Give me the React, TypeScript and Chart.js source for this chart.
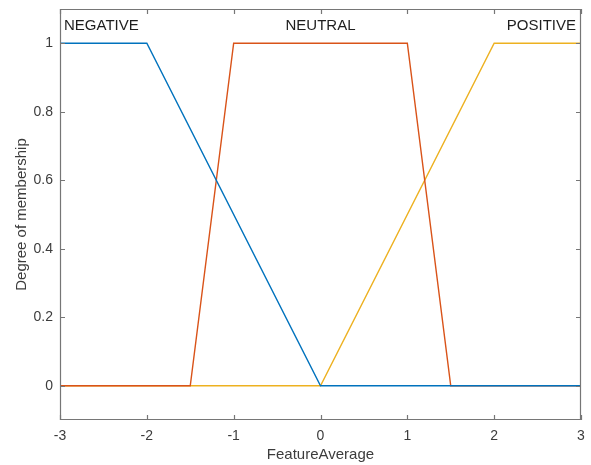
import React, { useEffect, useRef } from "react";
import { Chart, registerables } from "chart.js";

Chart.register(...registerables);

const negativeX = [-3, -2, 0, 3];
const negativeY = [1, 1, 0, 0];
const neutralX = [-3, -1.5, -1, 1, 1.5, 3];
const neutralY = [0, 0, 1, 1, 0, 0];
const positiveX = [-3, 0, 2, 3];
const positiveY = [0, 0, 1, 1];
const seriesNames = ["NEGATIVE", "NEUTRAL", "POSITIVE"];
const seriesColors = ["#0072BD", "#D95319", "#EDB120"];
const xTickValues = [-3, -2, -1, 0, 1, 2, 3];
const yTickValues = [0, 0.2, 0.4, 0.6, 0.8, 1];
const xLabel = "FeatureAverage";
const yLabel = "Degree of membership";

const FONT = "'Liberation Sans', Arial, Helvetica, sans-serif";
const AXIS_COLOR = "#767676";
const TEXT_COLOR = "#3c3c3c";

const toPoints = (xs: number[], ys: number[]) => xs.map((x, i) => ({ x, y: ys[i] }));

const boxPlugin = {
  id: "matlabBox",
  afterDatasetsDraw(chart: any) {
    const { ctx, chartArea: a, scales } = chart;
    const xs = scales.x;
    const ys = scales.y;
    ctx.save();
    ctx.strokeStyle = AXIS_COLOR;
    ctx.lineWidth = 1.2;
    ctx.beginPath();
    ctx.rect(a.left + 0.5, a.top + 0.5, a.right - a.left - 1, a.bottom - a.top - 1);
    ctx.stroke();
    const tl = 5;
    ctx.beginPath();
    xTickValues.forEach((v) => {
      const px = Math.round(xs.getPixelForValue(v)) + 0.5;
      ctx.moveTo(px, a.bottom);
      ctx.lineTo(px, a.bottom - tl);
      ctx.moveTo(px, a.top);
      ctx.lineTo(px, a.top + tl);
    });
    yTickValues.forEach((v) => {
      const py = Math.round(ys.getPixelForValue(v)) + 0.5;
      ctx.moveTo(a.left, py);
      ctx.lineTo(a.left + tl, py);
      ctx.moveTo(a.right, py);
      ctx.lineTo(a.right - tl, py);
    });
    ctx.stroke();
    // membership function names
    ctx.fillStyle = "#1e1e1e";
    ctx.font = `15px ${FONT}`;
    ctx.textBaseline = "middle";
    const ty = ys.getPixelForValue(1.05);
    ctx.textAlign = "left";
    ctx.fillText(seriesNames[0], a.left + 4, ty);
    ctx.textAlign = "center";
    ctx.fillText(seriesNames[1], xs.getPixelForValue(0), ty);
    ctx.textAlign = "right";
    ctx.fillText(seriesNames[2], a.right - 5, ty);
    ctx.restore();
  },
};

export default function App() {
  const ref = useRef<HTMLCanvasElement>(null);
  useEffect(() => {
    if (!ref.current) return;
    const mk = (i: number, xs: number[], ys: number[]) => ({
      label: seriesNames[i],
      data: toPoints(xs, ys),
      borderColor: seriesColors[i],
      backgroundColor: seriesColors[i],
      borderWidth: 1.4,
      pointRadius: 0,
      tension: 0,
      fill: false,
    });
    const chart = new Chart(ref.current, {
      type: "line",
      data: {
        datasets: [
          mk(0, negativeX, negativeY),
          mk(1, neutralX, neutralY),
          mk(2, positiveX, positiveY),
        ],
      },
      options: {
        animation: false,
        responsive: false,
        maintainAspectRatio: false,
        layout: { padding: { top: 9, right: 10, left: 0, bottom: 0 } },
        plugins: { legend: { display: false }, tooltip: { enabled: false } },
        scales: {
          x: {
            type: "linear",
            min: -3,
            max: 3,
            grid: { display: false, drawTicks: false },
            border: { display: false },
            afterBuildTicks: (s: any) => {
              s.ticks = xTickValues.map((v) => ({ value: v }));
            },
            afterFit: (s: any) => {
              s.height = 45;
              s.paddingLeft = 0;
              s.paddingRight = 0;
            },
            ticks: {
              padding: 8,
              color: TEXT_COLOR,
              font: { family: FONT, size: 14 },
              maxRotation: 0,
              callback: (v: any) => String(v),
            },
            title: {
              display: true,
              text: xLabel,
              color: TEXT_COLOR,
              font: { family: FONT, size: 15 },
              padding: { top: 0, bottom: 1 },
            },
          },
          y: {
            type: "linear",
            min: -0.1,
            max: 1.1,
            grid: { display: false, drawTicks: false },
            border: { display: false },
            afterBuildTicks: (s: any) => {
              s.ticks = yTickValues.map((v) => ({ value: v }));
            },
            afterFit: (s: any) => {
              s.width = 60;
              s.paddingTop = 0;
              s.paddingBottom = 0;
            },
            ticks: {
              padding: 7,
              color: TEXT_COLOR,
              font: { family: FONT, size: 14 },
              callback: (v: any) => String(v),
            },
            title: {
              display: true,
              text: yLabel,
              color: TEXT_COLOR,
              font: { family: FONT, size: 15 },
              padding: { top: 13, bottom: 0 },
            },
          },
        },
      },
      plugins: [boxPlugin],
    });
    return () => chart.destroy();
  }, []);
  return (
    <div style={{ position: "absolute", left: 0, top: 0, width: 591, height: 465, background: "#fff" }}>
      <canvas ref={ref} width={591} height={465} style={{ display: "block" }} />
    </div>
  );
}
